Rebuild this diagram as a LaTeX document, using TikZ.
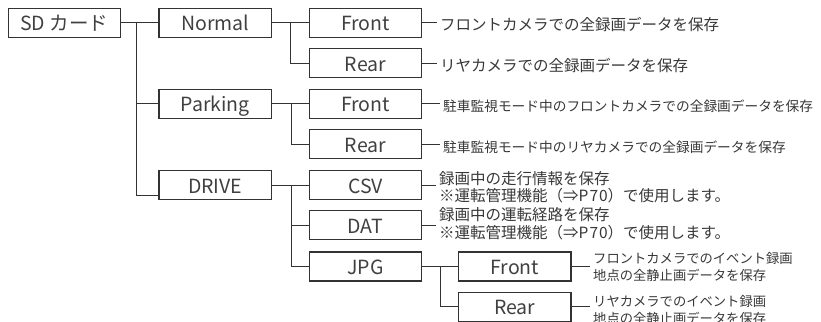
\documentclass[tikz,border=0pt]{standalone}
\usepackage{fontspec}
\setmainfont{Noto Sans CJK JP}
\begin{document}
\begin{tikzpicture}[x=1pt,y=-1pt,
  box/.style={draw=black!80, line width=1.1pt, minimum width=112.5pt, minimum height=29pt,
    inner sep=0pt, text height=18pt, text depth=2pt, text=black!75,
    font=\fontsize{19.5}{20}\selectfont},
  desc/.style={anchor=west, inner xsep=3pt, inner ysep=0pt, align=left, text=black!78},
  dA/.style={desc, font=\fontsize{15.5}{17.5}\selectfont},
  dB/.style={desc, font=\fontsize{13.7}{16}\selectfont},
  dC/.style={desc, font=\fontsize{13.3}{17}\selectfont},
  ln/.style={draw=black!80, line width=1pt}]
\useasboundingbox (0,0) rectangle (821,321);
% boxes
\node[box] (sd)  at (64.3,22.8)  {SD カード};
\node[box] (nor) at (215.2,22.8) {Normal};
\node[box] (par) at (215.2,103.7) {Parking};
\node[box] (drv) at (215.2,185)  {DRIVE};
\node[box] (nf)  at (365.5,22.8) {Front};
\node[box] (nr)  at (365.5,63.3) {Rear};
\node[box] (pf)  at (365.5,103.7) {Front};
\node[box] (pr)  at (365.5,144)  {Rear};
\node[box] (csv) at (365.5,185)  {CSV};
\node[box] (dat) at (365.5,225.3) {DAT};
\node[box] (jpg) at (365.5,266.5) {JPG};
\node[box] (jf)  at (514.7,266.5) {Front};
\node[box] (jr)  at (514.7,306.7) {Rear};
% descriptions
\node[dA] (d1) at (437,25) {フロントカメラでの全録画データを保存};
\node[dA] (d2) at (437,65.5) {リヤカメラでの全録画データを保存};
\node[dB] (d3) at (440,106.5) {駐車監視モード中のフロントカメラでの全録画データを保存};
\node[dB] (d4) at (440,146.8) {駐車監視モード中のリヤカメラでの全録画データを保存};
\node[dA] (d5) at (436,187) {録画中の走行情報を保存\\※運転管理機能（⇒P\kern1pt7\kern1pt0）で使用します。};
\node[dA] (d6) at (436,223.5) {録画中の運転経路を保存\\※運転管理機能（⇒P\kern1pt7\kern1pt0）で使用します。};
\node[dC] (d7) at (590,266.5) {フロントカメラでのイベント録画\\地点の全静止画データを保存};
\node[dC] (d8) at (590,309.5) {リヤカメラでのイベント録画\\地点の全静止画データを保存};
% tree connectors
\coordinate (t0) at (136.7,22.8);
\coordinate (s1) at (290,22.8);
\coordinate (s2) at (291.5,103.7);
\coordinate (s3) at (291,185);
\coordinate (s4) at (440,266.5);
\draw[ln] (sd.east) -- (nor.west);
\draw[ln] (t0) |- (par.west);
\draw[ln] (t0) |- ([yshift=-10.5pt]drv.west);
\draw[ln] (nor.east) -- (nf.west);
\draw[ln] (s1) |- (nr.west);
\draw[ln] (par.east) -- (pf.west);
\draw[ln] (s2) |- (pr.west);
\draw[ln] (drv.east) -- (csv.west);
\draw[ln] (s3) |- (dat.west);
\draw[ln] (s3) |- (jpg.west);
\draw[ln] (jpg.east) -- (jf.west);
\draw[ln] (s4) |- (jr.west);
% description leaders
\draw[ln] (nf.east) -- (nf.east -| d1.west);
\draw[ln] (nr.east) -- (nr.east -| d2.west);
\draw[ln] (pf.east) -- (pf.east -| d3.west);
\draw[ln] (pr.east) -- (pr.east -| d4.west);
\draw[ln] (csv.east) -- (csv.east -| d5.west);
\draw[ln] (dat.east) -- (dat.east -| d6.west);
\draw[ln] (jf.east) -- (jf.east -| d7.west);
\draw[ln] (jr.east) -- (jr.east -| d8.west);
\end{tikzpicture}
\end{document}
